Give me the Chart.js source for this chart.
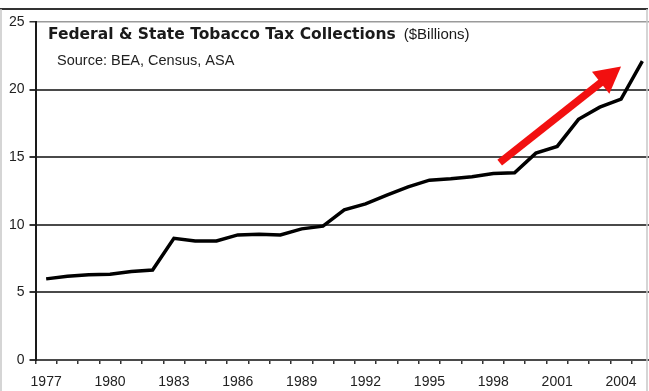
<!DOCTYPE html>
<html lang="en">
<head>
  <meta charset="UTF-8">
  <title>Federal & State Tobacco Tax Collections</title>
  <script src="https://cdn.jsdelivr.net/npm/chart.js"></script>
  <style>
    * { box-sizing: border-box; }
    body, html { margin:0; padding:0; background:#fff; overflow:hidden; }
    /* plot runs past the right edge in the original, so the box is a bit wider than the window */
    .chart-box { position:relative; width:660px; height:391px; }
  </style>
</head>
<body>
  <div class="chart-box">
    <canvas id="taxChart"></canvas>
  </div>

  <script>
    // Data ($ billions)
    const years = ['1977','1978','1979','1980','1981','1982','1983','1984','1985','1986',
                   '1987','1988','1989','1990','1991','1992','1993','1994','1995','1996',
                   '1997','1998','1999','2000','2001','2002','2003','2004','2005'];
    const collections = [6.0, 6.2, 6.3, 6.35, 6.55, 6.65, 9.0, 8.8, 8.8, 9.25,
                         9.3, 9.25, 9.7, 9.9, 11.1, 11.55, 12.2, 12.8, 13.3, 13.4,
                         13.55, 13.8, 13.85, 15.3, 15.8, 17.8, 18.7, 19.3, 22.1];
    const yTicks = [0, 5, 10, 15, 20, 25];

    const titleText = 'Federal & State Tobacco Tax Collections';
    const titleUnit = '($Billions)';
    const sourceText = 'Source: BEA, Census, ASA';

    // red trend arrow, in data units (category index, value)
    const arrowFrom = { x: 21.3, y: 14.6 };
    const arrowTo = { x: 27.0, y: 21.7 };

    const FONT = "'Liberation Sans', Arial, sans-serif";
    const TITLE_FONT = "'DejaVu Sans', Verdana, sans-serif";

    const decorations = {
      id: 'decorations',
      afterDraw(chart) {
        const { ctx, scales: { x, y } } = chart;
        ctx.save();

        // title + source
        ctx.fillStyle = '#1a1a1a';
        ctx.textBaseline = 'alphabetic';
        ctx.font = 'bold 15.5px ' + TITLE_FONT;
        ctx.fillText(titleText, 48, 39);
        const w = ctx.measureText(titleText).width;
        ctx.font = '15px ' + FONT;
        ctx.fillText(titleUnit, 48 + w + 8, 39);
        ctx.font = '14.5px ' + FONT;
        ctx.fillStyle = '#222';
        ctx.fillText(sourceText, 57, 65);

        // arrow
        const x0 = x.getPixelForValue(arrowFrom.x), y0 = y.getPixelForValue(arrowFrom.y);
        const x1 = x.getPixelForValue(arrowTo.x), y1 = y.getPixelForValue(arrowTo.y);
        const ang = Math.atan2(y1 - y0, x1 - x0);
        const headLen = 26, headW = 14;
        const bx = x1 - headLen * Math.cos(ang), by = y1 - headLen * Math.sin(ang);
        ctx.strokeStyle = '#f21010';
        ctx.fillStyle = '#f21010';
        ctx.lineWidth = 7.5;
        ctx.lineCap = 'butt';
        ctx.beginPath();
        ctx.moveTo(x0, y0);
        ctx.lineTo(bx + 2 * Math.cos(ang), by + 2 * Math.sin(ang));
        ctx.stroke();
        ctx.beginPath();
        ctx.moveTo(x1, y1);
        ctx.lineTo(bx + headW * Math.sin(ang), by - headW * Math.cos(ang));
        ctx.lineTo(bx - headW * Math.sin(ang), by + headW * Math.cos(ang));
        ctx.closePath();
        ctx.fill();

        // picture frame
        ctx.lineWidth = 2;
        ctx.strokeStyle = '#333';
        ctx.beginPath();
        ctx.moveTo(0, 9); ctx.lineTo(648, 9);
        ctx.stroke();
        ctx.lineWidth = 1.5;
        ctx.strokeStyle = '#c8c8c8';
        ctx.beginPath();
        ctx.moveTo(647, 9); ctx.lineTo(647, 391);
        ctx.moveTo(1, 9); ctx.lineTo(1, 391);
        ctx.stroke();
        ctx.restore();
      }
    };

    new Chart(document.getElementById('taxChart'), {
      type: 'line',
      data: {
        labels: years,
        datasets: [{
          data: collections,
          borderColor: '#000',
          borderWidth: 3.5,
          pointRadius: 0,
          tension: 0,
          fill: false
        }]
      },
      options: {
        responsive: true,
        maintainAspectRatio: false,
        animation: false,
        layout: { padding: { top: 22, right: 7, left: 0, bottom: 0 } },
        plugins: { legend: { display: false }, tooltip: { enabled: false } },
        scales: {
          x: {
            type: 'category',
            offset: true,
            afterFit: s => { s.height = 31; },
            border: { display: false },
            grid: {
              offset: true,
              drawOnChartArea: false,
              drawTicks: true,
              tickLength: 4,
              color: '#333',
              lineWidth: 1.5
            },
            ticks: {
              autoSkip: false,
              maxRotation: 0,
              padding: 10,
              color: '#222',
              font: { family: FONT, size: 14 },
              callback: (v, i) => (i % 3 === 0 ? years[i] : '')
            }
          },
          y: {
            min: 0,
            max: 25,
            afterFit: s => { s.width = 35.5; },
            afterBuildTicks: s => { s.ticks = yTicks.map(v => ({ value: v })); },
            border: { display: true, color: '#1a1a1a', width: 2 },
            grid: {
              color: c => (c.tick && c.tick.value === 25 ? '#9a9a9a' : '#4a4a4a'),
              lineWidth: c => (c.tick && c.tick.value === 25 ? 1.5 : 2),
              tickLength: 6,
              tickColor: '#333'
            },
            ticks: {
              padding: 5,
              color: '#222',
              font: { family: FONT, size: 14 }
            }
          }
        }
      },
      plugins: [decorations]
    });
  </script>
</body>
</html>
